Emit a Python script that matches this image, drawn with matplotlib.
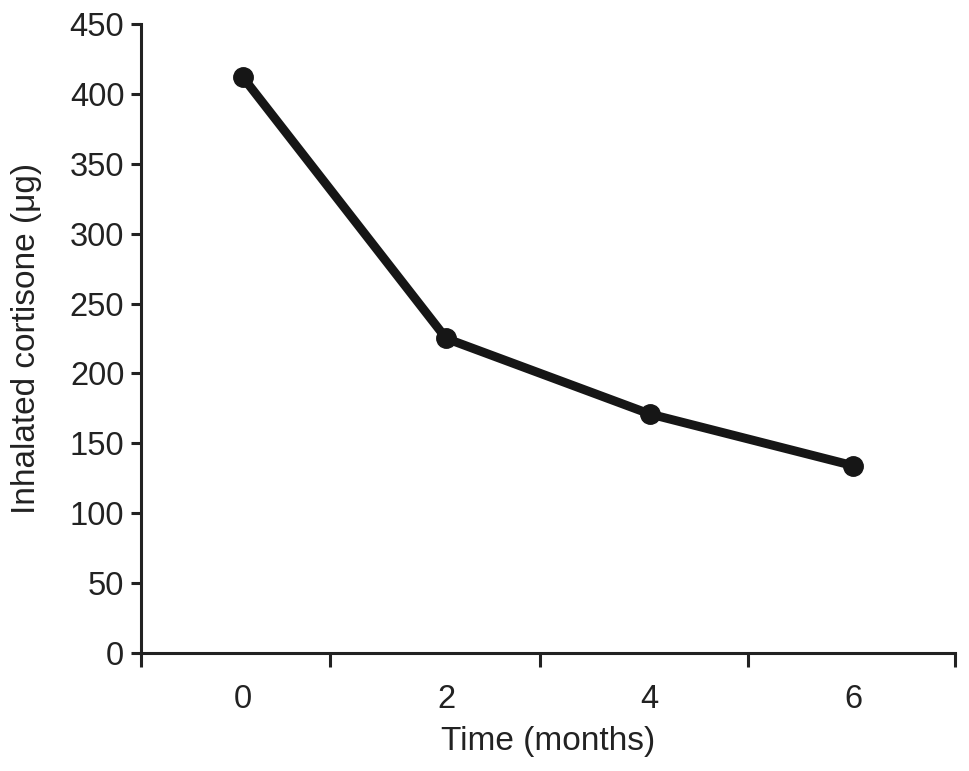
import numpy as np
import matplotlib
matplotlib.use('Agg')
import matplotlib.pyplot as plt

# data
months = [0, 2, 4, 6]
cortisone = [412, 225, 171, 134]
xtick_labels = ['0', '2', '4', '6']
yticks = np.arange(0, 451, 50)
# separator tick marks on the x axis, as drawn in the original
xsep = [-1, 0.86, 2.92, 4.97, 7]

plt.rcParams['font.family'] = ['Liberation Sans', 'DejaVu Sans']

fig = plt.figure(figsize=(9.69, 7.71), dpi=100)
ax = fig.add_axes([0.1455, 0.153, 0.84, 0.816])

ax.plot(months, cortisone, color='#161616', lw=6.4, marker='o', ms=14,
        solid_capstyle='round', clip_on=False)

ax.set_xlim(-1, 7)
ax.set_ylim(0, 450)
ax.set_yticks(yticks)
ax.set_xticks(months)
ax.set_xticklabels(xtick_labels)
ax.set_xticks(xsep, minor=True)

for s in ['top', 'right']:
    ax.spines[s].set_visible(False)
for s in ['left', 'bottom']:
    ax.spines[s].set_linewidth(2.2)
    ax.spines[s].set_color('#222222')

ax.tick_params(axis='y', which='major', length=7, width=2.2, labelsize=23.5,
               pad=5, color='#222222', labelcolor='#222222')
ax.tick_params(axis='x', which='major', length=0, labelsize=23.5, pad=22,
               labelcolor='#222222')
ax.tick_params(axis='x', which='minor', length=10, width=2.2, color='#222222')

ax.set_xlabel('Time (months)', fontsize=24, color='#222222', labelpad=8)
ax.set_ylabel('Inhalated cortisone (\u03bcg)', fontsize=24, color='#222222', labelpad=20)

fig.savefig('out.png', dpi=100)
